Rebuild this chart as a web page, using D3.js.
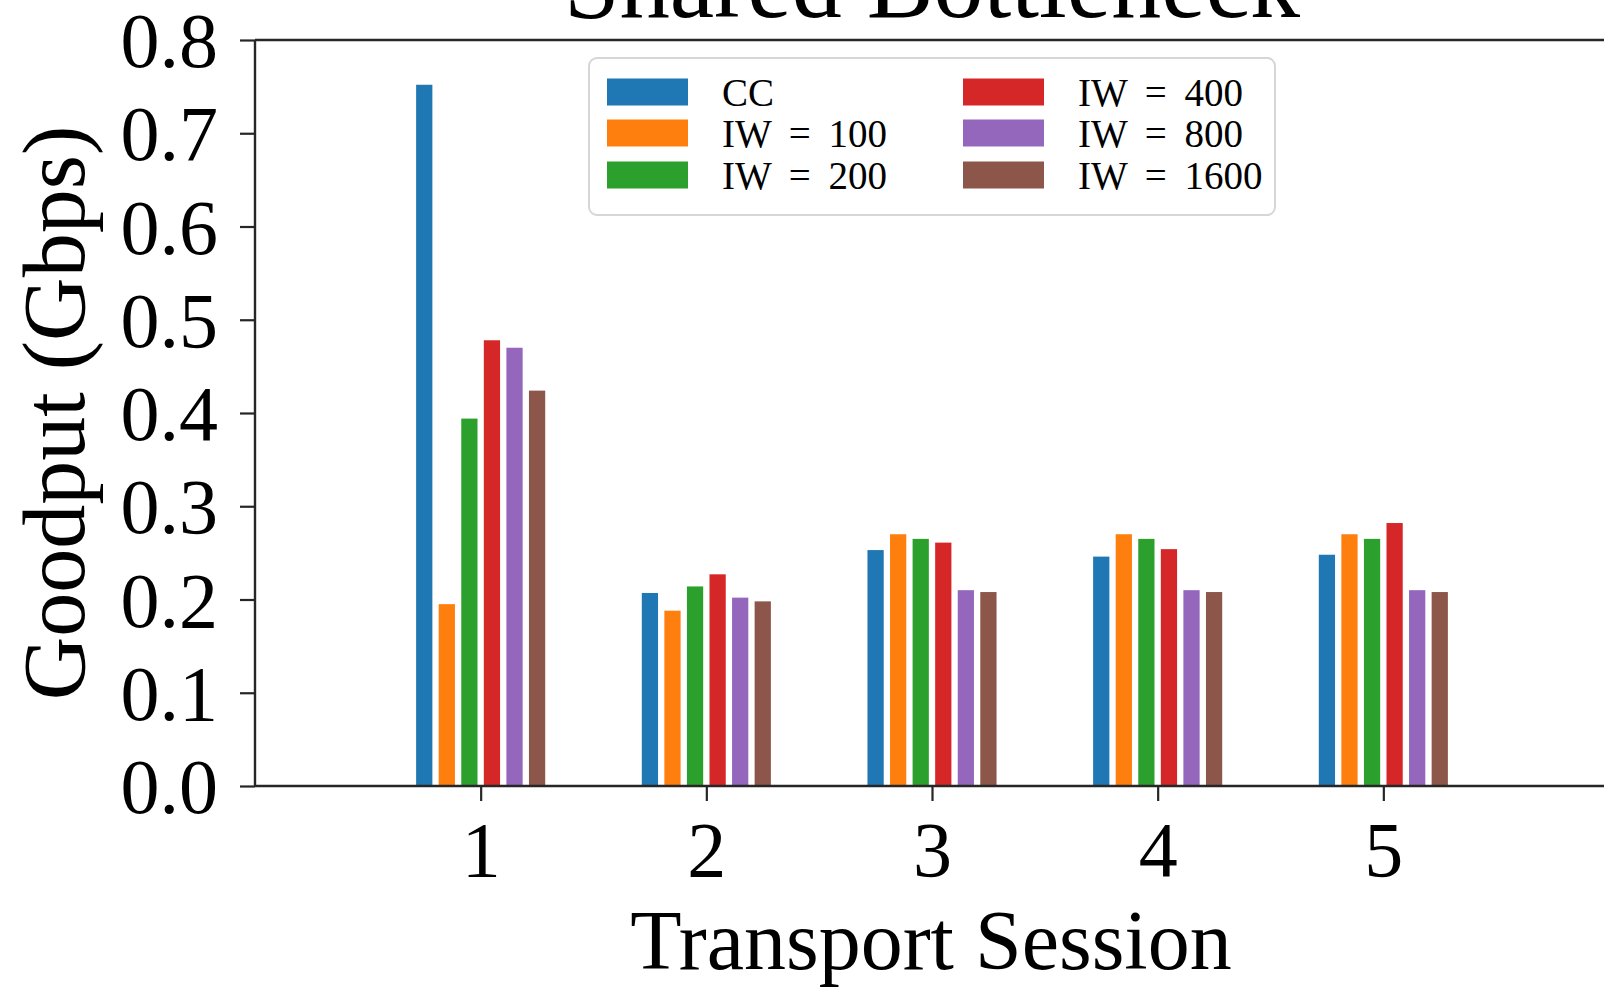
<!DOCTYPE html>
<html>
<head>
<meta charset="utf-8">
<script src="https://cdn.jsdelivr.net/npm/d3@7"></script>
<style>
  html, body { margin: 0; padding: 0; background: #fff; }
  svg { display: block; }
  text { font-family: "Liberation Serif", "DejaVu Serif", serif; fill: #000; }
</style>
</head>
<body>
<svg id="chart" width="1604" height="987"></svg>
<script>
// Goodput per transport session, one series per congestion setting
const sessions = [1, 2, 3, 4, 5];
const seriesNames = ["CC", "IW = 100", "IW = 200", "IW = 400", "IW = 800", "IW = 1600"];
const seriesColors = ["#1f77b4", "#ff7f0e", "#2ca02c", "#d62728", "#9467bd", "#8c564b"];
const ccValues     = [0.752, 0.207, 0.253, 0.246, 0.248];
const iw100Values  = [0.195, 0.188, 0.270, 0.270, 0.270];
const iw200Values  = [0.394, 0.214, 0.265, 0.265, 0.265];
const iw400Values  = [0.478, 0.227, 0.261, 0.254, 0.282];
const iw800Values  = [0.470, 0.202, 0.210, 0.210, 0.210];
const iw1600Values = [0.424, 0.198, 0.208, 0.208, 0.208];
const yTicks = [0.0, 0.1, 0.2, 0.3, 0.4, 0.5, 0.6, 0.7, 0.8];

const seriesValues = [ccValues, iw100Values, iw200Values, iw400Values, iw800Values, iw1600Values];

const svg = d3.select("#chart");
const plot = { left: 255, top: 40, right: 1609, bottom: 786 };

const x = d3.scaleLinear().domain([0, 6]).range([plot.left, plot.right]);
const y = d3.scaleLinear().domain([0, 0.8]).range([plot.bottom, plot.top]);

const barStep = 0.1;   // offset between neighbouring bars in a group
const barWidth = 0.072;

// Title (sits partly above the visible area)
svg.append("text")
  .attr("x", (plot.left + plot.right) / 2)
  .attr("y", 17)
  .attr("text-anchor", "middle")
  .style("font-size", "100px")
  .text("Shared Bottleneck");

// Bars
const rows = [];
seriesValues.forEach((vals, si) => {
  vals.forEach((v, gi) => rows.push({ s: si, session: sessions[gi], v }));
});
svg.append("g").selectAll("rect").data(rows).join("rect")
  .attr("x", d => x(d.session + (d.s - 2.5) * barStep - barWidth / 2))
  .attr("width", d => x(barWidth) - x(0))
  .attr("y", d => y(d.v))
  .attr("height", d => y(0) - y(d.v))
  .attr("fill", d => seriesColors[d.s]);

// Axes
const axisColor = "#262626";
const yAxis = d3.axisLeft(y).tickValues(yTicks).tickFormat(d3.format(".1f")).tickSize(15).tickPadding(22);
const xAxis = d3.axisBottom(x).tickValues(sessions).tickFormat(d3.format("d")).tickSize(15).tickPadding(20);

const gy = svg.append("g").attr("transform", `translate(${plot.left},0)`).call(yAxis);
const gx = svg.append("g").attr("transform", `translate(0,${plot.bottom})`).call(xAxis);
[gx, gy].forEach(g => {
  g.select(".domain").remove();
  g.selectAll(".tick line").attr("stroke", axisColor).attr("stroke-width", 2.2);
  g.selectAll(".tick text").attr("fill", "#000").style("font-size", "78px")
    .style("font-family", '"Liberation Serif", "DejaVu Serif", serif');
});
gy.selectAll(".tick text").attr("dy", "0.34em");
gx.selectAll(".tick text").attr("dy", "0.71em");

// Spines: left, bottom, top
const spines = svg.append("g").attr("stroke", axisColor).attr("stroke-width", 2.4).attr("fill", "none");
spines.append("line").attr("x1", plot.left).attr("x2", plot.left).attr("y1", plot.top).attr("y2", plot.bottom);
spines.append("line").attr("x1", plot.left).attr("x2", plot.right).attr("y1", plot.bottom).attr("y2", plot.bottom);
spines.append("line").attr("x1", plot.left).attr("x2", plot.right).attr("y1", plot.top).attr("y2", plot.top);
spines.append("line").attr("x1", plot.right).attr("x2", plot.right).attr("y1", plot.top).attr("y2", plot.bottom);

// Axis labels
svg.append("text")
  .attr("x", (plot.left + plot.right) / 2 - 1)
  .attr("y", 969)
  .attr("text-anchor", "middle")
  .style("font-size", "84px")
  .text("Transport Session");

svg.append("text")
  .attr("transform", `translate(84,${(plot.top + plot.bottom) / 2}) rotate(-90)`)
  .attr("text-anchor", "middle")
  .style("font-size", "88px")
  .text("Goodput (Gbps)");

// Legend, two columns of three entries
const legend = svg.append("g");
legend.append("rect")
  .attr("x", 589).attr("y", 58).attr("width", 686).attr("height", 157)
  .attr("rx", 8).attr("ry", 8)
  .attr("fill", "#fff").attr("fill-opacity", 0.85)
  .attr("stroke", "#d6d6d6").attr("stroke-width", 2);

const colX = [607, 963];
const rowY = [92, 133, 175];
seriesNames.forEach((name, i) => {
  const col = Math.floor(i / 3), row = i % 3;
  const g = legend.append("g").attr("transform", `translate(${colX[col]},${rowY[row]})`);
  g.append("rect").attr("x", 0).attr("y", -13.5).attr("width", 81).attr("height", 27)
    .attr("fill", seriesColors[i]);
  g.append("text").attr("x", 115).attr("y", 0).attr("dy", "0.35em")
    .style("font-size", "39px").style("word-spacing", "8px")
    .text(name);
});
</script>
</body>
</html>
